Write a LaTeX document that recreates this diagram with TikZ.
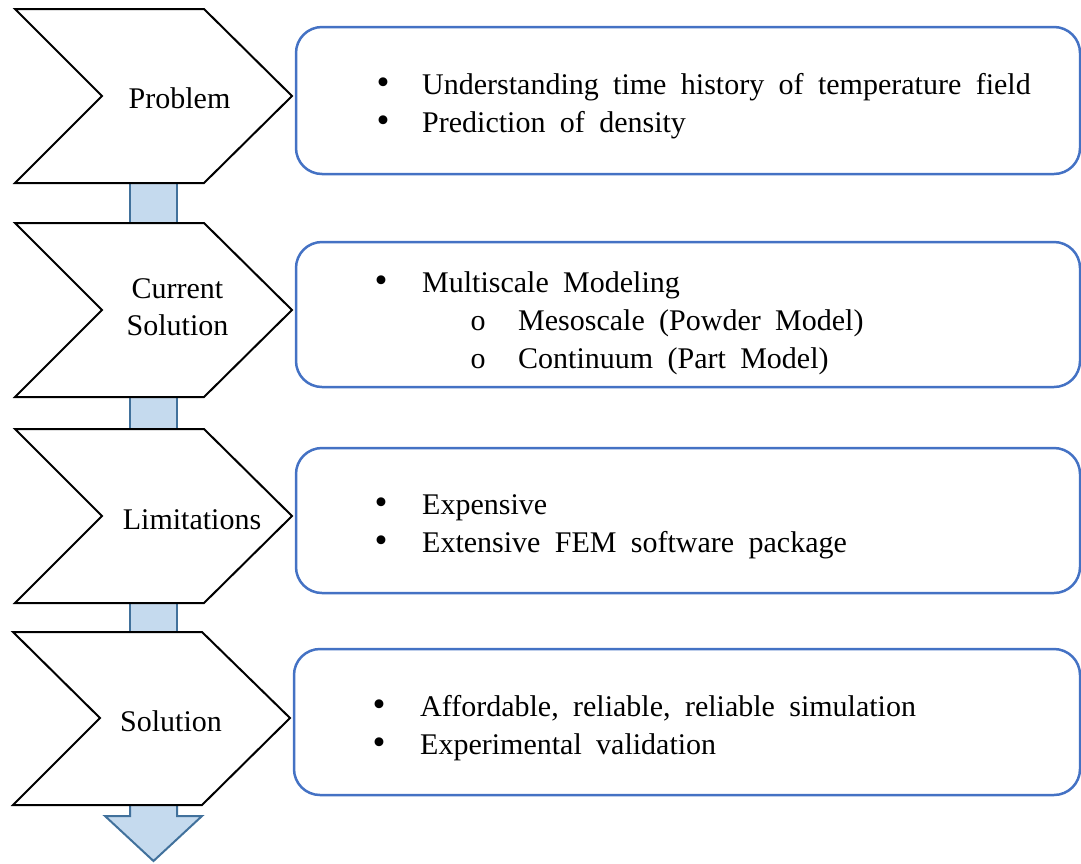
\documentclass[tikz,border=0pt]{standalone}
\usepackage{fontspec}
\setmainfont{Liberation Serif}
\definecolor{boxblue}{HTML}{4472C4}
\definecolor{barfill}{RGB}{197,218,238}
\definecolor{barline}{HTML}{41719C}
\newcommand\myboxfont{\fontsize{30}{38}\selectfont\spaceskip 0.48em\relax}
\begin{document}
\begin{tikzpicture}[x=1pt,y=-1pt,
  chev/.style={draw=black, line width=2pt, fill=white, line join=miter},
  barstyle/.style={draw=barline, fill=barfill, line width=2pt, line join=miter},
  info/.style={draw=boxblue, line width=2.5pt, rounded corners=26pt, fill=none},
  lbl/.style={font={\fontsize{30}{37}\selectfont}, inner sep=0pt, align=center},
  txt/.style={font={\myboxfont}, inner sep=0pt, anchor=base west},
  dot/.style={font={\fontsize{37}{37}\selectfont}, inner sep=0pt, anchor=base, text height=0.55em, text depth=0pt},
  sub/.style={font={\fontsize{30}{38}\selectfont}, inner sep=0pt, anchor=base}]
\useasboundingbox (0,0) rectangle (1081,863);

% connector bars (behind chevrons)
\coordinate (b1a) at (130,180); \coordinate (b1b) at (177,226);
\coordinate (b2a) at (130,394); \coordinate (b2b) at (177,432);
\coordinate (b3a) at (130,600); \coordinate (b3b) at (177,635);
\draw[barstyle] (b1a) rectangle (b1b);
\draw[barstyle] (b2a) rectangle (b2b);
\draw[barstyle] (b3a) rectangle (b3b);

% bottom arrow
\coordinate (arrtip) at (153.5,861);
\draw[barstyle] (130,800) -- (177,800) -- (177,816) -- (202,816) -- (arrtip) -- (105,816) -- (130,816) -- cycle;

% chevrons
\draw[chev] (15,9) -- (204,9) -- (292,96) -- (204,183) -- (15,183) -- (102,96) -- cycle;
\draw[chev] (15,223) -- (204,223) -- (292,310) -- (204,397) -- (15,397) -- (102,310) -- cycle;
\draw[chev] (15,429) -- (204,429) -- (292,516) -- (204,603) -- (15,603) -- (102,516) -- cycle;
\draw[chev] (13,632) -- (202,632) -- (290,718) -- (202,805) -- (13,805) -- (100,718) -- cycle;

\node[lbl, anchor=base] (l1) at (179.5,108) {Problem};
\node[lbl, anchor=center] (l2) at (177.5,307) {Current\\Solution};
\node[lbl, anchor=base] (l3) at (192,529) {Limitations};
\node[lbl, anchor=base] (l4) at (171,731) {Solution};

% boxes
\draw[info] (296,27) rectangle (1080,174);
\draw[info] (296,242) rectangle (1080,387);
\draw[info] (296,448) rectangle (1080,593);
\draw[info] (294,649) rectangle (1080,795);

% box 1
\node[dot] (d11) at (383,94) {•};
\node[txt] (t11) at (422,94) {Understanding time history of temperature field};
\node[dot] (d12) at (383,132) {•};
\node[txt] (t12) at (422,132) {Prediction of density};

% box 2
\node[dot] (d21) at (381,292) {•};
\node[txt] (t21) at (422,292) {Multiscale Modeling};
\node[sub] (d22) at (478,330) {o};
\node[txt] (t22) at (518,330) {Mesoscale (Powder Model)};
\node[sub] (d23) at (478,368) {o};
\node[txt] (t23) at (518,368) {Continuum (Part Model)};

% box 3
\node[dot] (d31) at (381,514) {•};
\node[txt] (t31) at (422,514) {Expensive};
\node[dot] (d32) at (381,552) {•};
\node[txt] (t32) at (422,552) {Extensive FEM software package};

% box 4
\node[dot] (d41) at (379,716) {•};
\node[txt] (t41) at (420,716) {Affordable, reliable, reliable simulation};
\node[dot] (d42) at (379,754) {•};
\node[txt] (t42) at (420,754) {Experimental validation};
\end{tikzpicture}
\end{document}
